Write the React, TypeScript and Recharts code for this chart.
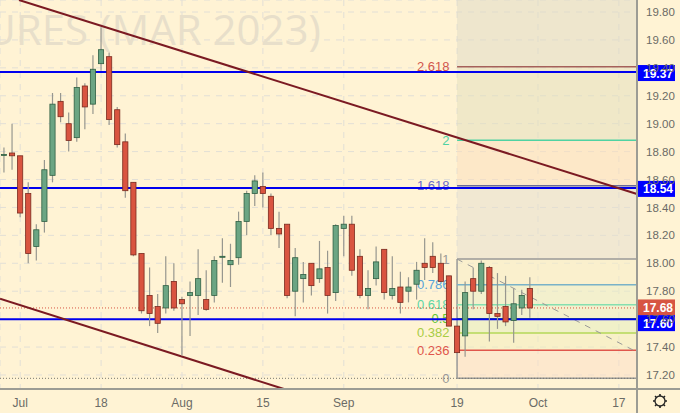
import { ComposedChart, Bar, XAxis, YAxis, CartesianGrid, ReferenceLine, ReferenceArea } from 'recharts'

const WIDTH = 680
const HEIGHT = 413
const BG = '#fff3d4'
const NARROW = '"Liberation Sans Narrow", "Liberation Sans", sans-serif'

const opens = [18.78, 18.79, 18.77, 18.5, 18.12, 18.3, 18.63, 19.16, 19.0, 18.9, 19.27, 19.14, 19.43, 19.48, 19.1, 18.87, 18.58, 18.07, 17.77, 17.69, 17.68, 17.87, 17.74, 17.77, 17.77, 17.74, 17.77, 18.05, 17.99, 18.04, 18.3, 18.5, 18.55, 18.48, 18.25, 18.28, 17.8, 17.89, 18.0, 17.89, 17.97, 17.79, 18.25, 18.28, 18.05, 17.77, 17.89, 18.1, 17.77, 17.83, 17.8, 17.85, 18.0, 18.05, 18.0, 17.91, 17.55, 17.48, 17.89, 17.8, 17.97, 17.64, 17.69, 17.59, 17.68, 17.82]
const closes = [18.78, 18.77, 18.36, 18.07, 18.24, 18.67, 19.14, 19.05, 18.88, 19.26, 19.12, 19.39, 19.53, 19.03, 18.85, 18.52, 18.06, 17.66, 17.64, 17.57, 17.84, 17.68, 17.71, 17.79, 17.89, 17.67, 18.02, 18.05, 18.02, 18.3, 18.5, 18.59, 18.5, 18.25, 18.21, 17.77, 18.04, 17.92, 17.84, 17.96, 17.77, 18.27, 18.28, 17.95, 17.77, 17.82, 18.01, 17.79, 17.82, 17.72, 17.83, 17.95, 17.97, 17.97, 17.87, 17.55, 17.36, 17.79, 17.8, 18.0, 17.64, 17.62, 17.58, 17.71, 17.77, 17.68]
const highs = [18.83, 19.0, 18.77, 18.58, 18.28, 18.74, 19.22, 19.22, 19.08, 19.33, 19.29, 19.49, 19.69, 19.51, 19.12, 18.93, 18.58, 18.07, 17.97, 17.78, 18.05, 18.0, 17.76, 17.87, 18.1, 17.95, 18.05, 18.18, 18.14, 18.37, 18.52, 18.63, 18.65, 18.5, 18.37, 18.28, 18.11, 18.01, 18.0, 18.16, 18.09, 18.28, 18.34, 18.34, 18.1, 17.95, 18.12, 18.1, 18.05, 17.94, 17.9, 18.01, 18.18, 18.15, 18.07, 17.91, 17.55, 17.87, 17.97, 18.02, 17.98, 17.93, 17.91, 17.82, 17.81, 17.9]
const lows = [18.65, 18.67, 18.33, 18.0, 18.02, 18.22, 18.58, 19.01, 18.8, 18.87, 18.96, 19.07, 19.38, 18.99, 18.83, 18.47, 18.05, 17.64, 17.55, 17.5, 17.64, 17.66, 17.34, 17.48, 17.63, 17.66, 17.72, 17.86, 17.83, 17.99, 18.2, 18.41, 18.4, 18.2, 18.11, 17.75, 17.62, 17.72, 17.77, 17.86, 17.64, 17.73, 18.05, 17.91, 17.75, 17.67, 17.84, 17.74, 17.74, 17.64, 17.72, 17.74, 17.88, 17.93, 17.87, 17.55, 17.36, 17.33, 17.67, 17.78, 17.44, 17.53, 17.55, 17.43, 17.63, 17.61]

const candles = opens.map((open, i) => ({ i, open, close: closes[i], high: highs[i], low: lows[i] }))

const yTicks = [19.8, 19.6, 19.4, 19.2, 19.0, 18.8, 18.6, 18.4, 18.2, 18.0, 17.8, 17.6, 17.4, 17.2]
const xTicks = [2, 12, 22, 32, 42, 56, 66, 76]
const xTickLabels = ['Jul', '18', 'Aug', '15', 'Sep', '19', 'Oct', '17']

const fibStart = 56
const xMin = -0.494
const xMax = 78.24
const yMin = 17.0995
const yMax = 19.886

const fibLabels = ['0', '0.236', '0.382', '0.5', '0.618', '0.786', '1', '1.618', '2', '2.618']
const fibPrices = [17.176, 17.377, 17.501, 17.602, 17.703, 17.846, 18.03, 18.556, 18.881, 19.407]
const fibColors = ['#9a9a98', '#e0564c', '#b4d858', '#46b010', '#86dfb0', '#79b2c8', '#9a9a98', '#6a6a9a', '#4fd2a2', '#a5605a']
const fibTextColors = ['#9a9a98', '#e0564c', '#a8cc44', '#62c832', '#5ed6a5', '#58a4d8', '#9a9a98', '#6a6ac8', '#4fd2a2', '#d2554c']
const zoneFills = ['#fbddc6', '#f1edbc', '#e1edbc', '#e7edc6', '#e7edc6', '#f5edc6', '#e3ddd0', '#fbddbc', '#e1ddbc', '#ddd9c6']

const resistance = [19.37, 18.54, 17.6]
const lastPrice = 17.68

const upperTrend = { x: [1.85, 78.24], y: [19.886, 18.496] }
const lowerTrend = { x: [-0.494, 34.6], y: [17.746, 17.0995] }
const fibDiagonal = { x: [56, 78.24], y: [18.03, 17.364] }

const seg = (x1: number, y1: number, x2: number, y2: number): any => [
  { x: x1, y: y1 },
  { x: x2, y: y2 },
]

function Candle(props: any) {
  const { x, y, width, height, payload } = props
  const scale = height / (payload.high - payload.low)
  const cx = x + width / 2
  const top = y + (payload.high - Math.max(payload.open, payload.close)) * scale
  const bottom = y + (payload.high - Math.min(payload.open, payload.close)) * scale
  const up = payload.close >= payload.open
  return (
    <g>
      <line x1={cx} x2={cx} y1={y} y2={y + height} stroke="#97978f" strokeWidth={1.2} />
      <rect
        x={x + 0.4}
        y={top}
        width={width - 0.8}
        height={Math.max(bottom - top, 1)}
        fill={up ? '#6ba583' : '#d95440'}
        stroke={up ? '#2f5f43' : '#7a2a1e'}
        strokeWidth={0.8}
      />
    </g>
  )
}

function PriceTag({ viewBox, text, fill, dy = 0 }: any) {
  const right = viewBox.x + viewBox.width
  const cy = viewBox.y + dy
  return (
    <g>
      <rect x={right} y={cy - 8} width={38} height={16} fill={fill} />
      <text x={right + 21} y={cy + 4.5} textAnchor="middle" fontSize={12} fontWeight={700} fill="#fff" fontFamily={NARROW}>
        {text}
      </text>
    </g>
  )
}

function FibLabel({ viewBox, text, fill }: any) {
  return (
    <text x={viewBox.x - 7.5} y={viewBox.y + 4.5} textAnchor="end" fontSize={13} fill={fill} fontFamily={NARROW}>
      {text}
    </text>
  )
}

const gearTeeth = [0, 45, 90, 135, 180, 225, 270, 315]

export default function App() {
  return (
    <div style={{ position: 'absolute', left: 0, top: 0, width: WIDTH, height: HEIGHT, background: BG, fontFamily: '"Liberation Sans", sans-serif' }}>
      <ComposedChart width={WIDTH} height={HEIGHT} data={candles} margin={{ top: 0, right: 0, bottom: 0, left: 0 }}>
        <text x={321} y={45} textAnchor="end" fontSize={42} fill="#e8dfca" fontFamily='"Open Sans", sans-serif'>
          URES (MAR 2023)
        </text>
        <CartesianGrid stroke="#e2dfd6" strokeDasharray="6 6" />
        <XAxis
          dataKey="i"
          type="number"
          domain={[xMin, xMax]}
          allowDataOverflow
          ticks={xTicks}
          interval={0}
          height={24}
          tickFormatter={(v: number) => xTickLabels[xTicks.indexOf(v)]}
          tick={{ fontSize: 12, fill: '#6b6b66', fontFamily: NARROW }}
          tickLine={false}
          axisLine={{ stroke: '#9c9c94', strokeWidth: 2 }}
          tickMargin={3}
        />
        <YAxis
          orientation="right"
          type="number"
          domain={[yMin, yMax]}
          allowDataOverflow
          ticks={yTicks}
          interval={0}
          width={43}
          tickFormatter={(v: number) => v.toFixed(2)}
          tick={{ fontSize: 11.5, fill: '#6b6b66', fontFamily: NARROW }}
          tickLine={false}
          axisLine={{ stroke: '#9c9c94', strokeWidth: 2 }}
          tickMargin={3}
        />

        {zoneFills.map((fill, k) => (
          <ReferenceArea
            key={k}
            x1={fibStart}
            x2={xMax}
            y1={fibPrices[k]}
            y2={k + 1 < fibPrices.length ? fibPrices[k + 1] : yMax}
            fill={fill}
            fillOpacity={0.5}
            stroke="none"
            zIndex={90}
          />
        ))}
        <ReferenceLine segment={seg(fibStart, fibPrices[0], fibStart, fibPrices[6])} stroke="#9a9a98" strokeWidth={1.5} zIndex={95} />
        {fibPrices.map((p, k) => (
          <ReferenceLine
            key={k}
            segment={seg(fibStart, p, xMax, p)}
            stroke={fibColors[k]}
            strokeWidth={1.5}
            zIndex={95}
            label={<FibLabel text={fibLabels[k]} fill={fibTextColors[k]} />}
          />
        ))}
        <ReferenceLine
          segment={seg(fibDiagonal.x[0], fibDiagonal.y[0], fibDiagonal.x[1], fibDiagonal.y[1])}
          stroke="#9a9a98"
          strokeDasharray="6 6"
          zIndex={96}
        />
        <ReferenceLine y={fibPrices[0]} stroke="#77776f" strokeDasharray="1 2" zIndex={96} />
        <ReferenceLine y={lastPrice} stroke="#d75442" strokeDasharray="1 2" zIndex={96} label={<PriceTag text="17.68" fill="#d75442" dy={-0.5} />} />

        <ReferenceLine y={resistance[0]} stroke="#0000ee" strokeWidth={2} zIndex={97} label={<PriceTag text="19.37" fill="#0000ff" dy={1} />} />
        <ReferenceLine y={resistance[1]} stroke="#0000ee" strokeWidth={2} zIndex={97} label={<PriceTag text="18.54" fill="#0000ff" dy={1} />} />
        <ReferenceLine y={resistance[2]} stroke="#0000ee" strokeWidth={2} zIndex={97} label={<PriceTag text="17.60" fill="#0000ff" dy={4} />} />

        <ReferenceLine segment={seg(upperTrend.x[0], upperTrend.y[0], upperTrend.x[1], upperTrend.y[1])} stroke="#7b1a22" strokeWidth={2} zIndex={98} />
        <ReferenceLine segment={seg(lowerTrend.x[0], lowerTrend.y[0], lowerTrend.x[1], lowerTrend.y[1])} stroke="#7b1a22" strokeWidth={2} zIndex={98} />

        <Bar dataKey={(d: any) => [d.low, d.high]} barSize={6} shape={<Candle />} isAnimationActive={false} />

        <line x1={637} x2={680} y1={389} y2={389} stroke="#9c9c94" strokeWidth={2} />
        <line x1={637} x2={637} y1={389} y2={413} stroke="#9c9c94" strokeWidth={2} />
        <g>
          <circle cx={660} cy={401} r={5} fill="none" stroke="#222" strokeWidth={1.3} />
          {gearTeeth.map((a) => (
            <line key={a} x1={660} x2={660} y1={394} y2={396} stroke="#222" strokeWidth={1.6} transform={`rotate(${a} 660 401)`} />
          ))}
        </g>
      </ComposedChart>
    </div>
  )
}
